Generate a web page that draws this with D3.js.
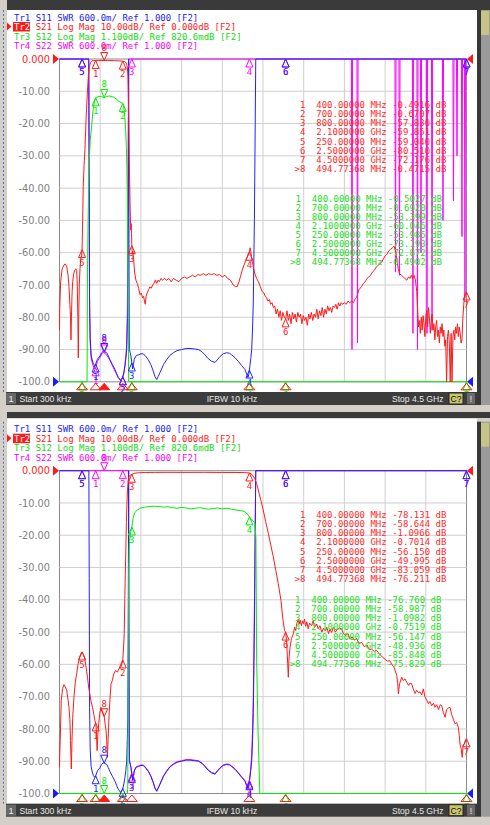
<!DOCTYPE html>
<html><head><meta charset="utf-8">
<script src="https://cdn.jsdelivr.net/npm/d3@7"></script>
<style>body{margin:0;background:#d4d0c8;overflow:hidden}svg{display:block}</style>
</head><body><svg id="c" width="490" height="825"></svg>
<script>
// ---------------- DATA ----------------
const startMHz = 0.3, stopMHz = 4500;
const yTickLabels = ["0.000","-10.00","-20.00","-30.00","-40.00","-50.00","-60.00","-70.00","-80.00","-90.00","-100.0"];
const traceTitles = [
  {tr:"Tr1", rest:" S11 SWR 600.0m/ Ref 1.000 [F2]"},
  {tr:"Tr2", rest:" S21 Log Mag 10.00dB/ Ref 0.000dB [F2]"},
  {tr:"Tr3", rest:" S12 Log Mag 1.100dB/ Ref 820.6mdB [F2]"},
  {tr:"Tr4", rest:" S22 SWR 600.0m/ Ref 1.000 [F2]"}
];
const markerFreqs = [400, 700, 800, 2100, 250, 2500, 4500, 494.77368];
const markerFreqText = ["400.00000 MHz","700.00000 MHz","800.00000 MHz","2.1000000 GHz","250.00000 MHz","2.5000000 GHz","4.5000000 GHz","494.77368 MHz"];
const s21MarkA = [-0.4916,-0.6707,-57.830,-59.851,-59.040,-80.510,-72.176,-0.4715];
const s12MarkA = [-0.5027,-0.6920,-53.399,-60.046,-53.985,-73.193,-72.872,-0.4902];
const s21MarkB = [-78.131,-58.644,-1.0966,-0.7014,-56.150,-49.995,-83.059,-76.211];
const s12MarkB = [-76.760,-58.987,-1.0982,-0.7519,-56.147,-48.936,-85.848,-75.829];
const statusTexts = ["Start 300 kHz","IFBW 10 kHz","Stop 4.5 GHz"];

// S21 (dB) upper screen: 400-700 MHz band-pass
const s21A = [[0.3,-83.9],[3,-77],[13,-69],[30,-65],[50,-63.8],[65,-63.5],[80,-64.3],[95,-67],[105,-70.5],[115,-76],[122,-80],[127,-87],[133,-79],[140,-72],[146,-69],[158,-66.5],[171,-65.3],[182,-65],[190,-65.6],[197,-70],[203,-80],[208,-92.6],[213,-80],[219,-70],[227,-65],[235,-62],[245,-61],[250,-59.04],[256,-50],[263,-39.5],[272,-33],[282,-28],[295,-18],[308,-10.6],[320,-5],[330,-2.4],[345,-1],[360,-0.55],[380,-0.5],[400,-0.4916],[430,-0.48],[460,-0.47],[494.77,-0.4715],[530,-0.47],[570,-0.49],[610,-0.52],[650,-0.56],[680,-0.62],[700,-0.6707],[720,-0.8],[740,-1.2],[750,-2.5],[756,-5],[761,-10.5],[765,-17],[768,-23],[772,-31],[777,-40],[783,-48],[788,-53],[792,-51],[796,-54],[800,-57.83],[806,-60.5],[812,-59.5],[820,-62],[830,-66],[845,-68.5],[860,-69.5],[875,-71],[890,-73],[905,-72.5],[918,-74],[930,-73.5],[940,-75],[948,-76],[958,-73.5],[970,-72.5],[985,-71.5],[1000,-70.6],[1015,-71],[1030,-70],[1045,-69.5],[1060,-68.5],[1075,-69.5],[1090,-68.5],[1105,-69],[1120,-68],[1140,-68.5],[1160,-68],[1185,-68.5],[1210,-68],[1235,-69],[1260,-68],[1290,-68.5],[1320,-69],[1350,-68],[1380,-67.5],[1410,-68],[1440,-67.5],[1470,-67],[1500,-67.5],[1530,-66.8],[1560,-67],[1590,-66.5],[1620,-67],[1650,-66.5],[1680,-66.8],[1710,-66.5],[1740,-67],[1770,-66.8],[1800,-67.5],[1830,-67],[1860,-68],[1890,-68.5],[1920,-70],[1945,-70.5],[1965,-70.5],[1985,-69],[2005,-67],[2025,-65],[2045,-63.5],[2065,-62],[2080,-61],[2090,-60],[2100,-59.851],[2108,-58.5],[2115,-59.5],[2125,-62],[2140,-64],[2160,-66.5],[2180,-68],[2200,-69],[2220,-70.5],[2240,-72],[2260,-72.5],[2275,-73.5],[2290,-74],[2305,-75],[2320,-74.5],[2335,-76],[2350,-75.5],[2365,-77],[2380,-76.5],[2395,-79],[2410,-77.5],[2425,-80],[2440,-78],[2455,-81],[2470,-78.5],[2485,-80],[2500,-80.51],[2515,-78],[2530,-81],[2545,-79],[2560,-82],[2575,-78.5],[2590,-80.5],[2605,-79],[2620,-81.5],[2635,-78.5],[2650,-80],[2665,-79],[2680,-82],[2695,-79.5],[2710,-81],[2725,-80],[2740,-82.5],[2755,-79],[2770,-80.5],[2785,-78.5],[2800,-81],[2815,-79],[2830,-80],[2845,-77.5],[2860,-80.5],[2875,-78],[2890,-79.5],[2905,-77],[2920,-80],[2935,-77.5],[2950,-79],[2965,-76.5],[2980,-78],[2995,-77],[3010,-78.5],[3025,-76.5],[3040,-77],[3055,-76],[3070,-77.5],[3085,-75.5],[3100,-76.5],[3115,-75.5],[3130,-76],[3150,-75.5],[3170,-76],[3190,-75],[3210,-75.5],[3230,-75],[3250,-75.5],[3265,-74.5],[3280,-74],[3295,-73],[3310,-71.5],[3325,-71],[3340,-70.5],[3360,-69.5],[3380,-69],[3400,-68],[3420,-67.5],[3440,-67],[3460,-66],[3480,-65.5],[3500,-64.5],[3520,-64],[3540,-63.5],[3560,-63],[3580,-62],[3600,-61],[3620,-60.5],[3640,-59.5],[3660,-59],[3680,-58.5],[3700,-58],[3715,-59.5],[3730,-62],[3745,-65],[3760,-66.5],[3780,-67],[3800,-67.5],[3820,-68],[3840,-68.5],[3860,-67.5],[3875,-68],[3890,-67],[3905,-68],[3920,-67],[3935,-68.5],[3950,-72],[3960,-78],[3970,-83],[3980,-81],[3990,-85],[4000,-80],[4010,-84],[4020,-79.5],[4030,-82],[4040,-86],[4050,-80],[4060,-78],[4070,-83],[4080,-77],[4090,-80],[4100,-85],[4110,-81],[4120,-79],[4130,-84],[4140,-82],[4150,-87],[4160,-83],[4170,-81],[4180,-86],[4190,-84],[4200,-88],[4210,-83],[4220,-85],[4230,-82],[4240,-86],[4250,-84],[4260,-89],[4270,-87],[4280,-100],[4290,-86],[4300,-84],[4310,-88],[4320,-100],[4330,-85],[4340,-100],[4350,-86],[4360,-84],[4370,-87],[4380,-83],[4390,-85],[4400,-82],[4410,-86],[4420,-83],[4430,-85],[4440,-88],[4450,-87],[4460,-80],[4470,-76],[4480,-73],[4490,-72.5],[4500,-72.176]];

// S12 (dB, own scale) upper screen
const s12A = [[0.3,-75],[60,-72],[150,-66],[250,-53.985],[290,-25],[305,-12],[310,-6.5],[315,-5.0],[322,-3.6],[330,-2.6],[340,-1.95],[355,-1.5],[370,-0.95],[385,-0.65],[400,-0.5027],[420,-0.47],[450,-0.455],[470,-0.47],[494.77,-0.4902],[520,-0.46],[545,-0.44],[570,-0.45],[600,-0.48],[630,-0.55],[660,-0.63],[680,-0.66],[700,-0.692],[712,-0.85],[722,-1.15],[732,-1.6],[740,-2.2],[746,-3.0],[752,-4.3],[758,-7],[765,-12],[780,-30],[800,-53.399],[900,-72],[1200,-68],[1600,-66],[2100,-60.046],[2500,-73.193],[3000,-78],[3700,-60],[4000,-82],[4500,-72.872]];

// S11 SWR (both screens)
const s11SWR = [[0.3,20],[325,20],[329,5],[333,2.6],[340,1.8],[350,1.5],[360,1.42],[375,1.33],[392,1.3],[400,1.33],[420,1.42],[448,1.48],[466,1.54],[484,1.57],[500,1.56],[522,1.54],[540,1.48],[558,1.41],[585,1.32],[614,1.23],[632,1.15],[650,1.08],[676,1.02],[698,1.08],[712,1.18],[724,1.3],[735,1.45],[743,1.6],[750,2.0],[755,2.4],[760,4],[765,20],[768,4],[772,1.6],[781,1.55],[790,1.48],[800,1.35],[809,1.24],[818,1.32],[827,1.42],[850,1.49],[871,1.5],[900,1.52],[927,1.52],[955,1.47],[982,1.41],[1010,1.32],[1037,1.2],[1055,1.1],[1075,1.04],[1092,1.1],[1111,1.17],[1150,1.32],[1185,1.41],[1220,1.49],[1259,1.54],[1300,1.58],[1351,1.6],[1400,1.62],[1443,1.62],[1490,1.61],[1535,1.6],[1575,1.56],[1609,1.5],[1645,1.43],[1683,1.38],[1720,1.36],[1750,1.42],[1775,1.47],[1810,1.52],[1849,1.54],[1880,1.53],[1904,1.5],[1940,1.45],[1977,1.38],[2015,1.3],[2051,1.23],[2070,1.14],[2084,1.08],[2095,1.15],[2106,1.3],[2116,1.45],[2125,1.6],[2135,2.0],[2143,2.5],[2155,4],[2170,20],[4500,20]];

// S22 SWR upper screen
const s22A = [[0.3,20],[322,20],[328,4],[333,2.2],[340,1.7],[350,1.45],[365,1.33],[380,1.27],[392,1.24],[400,1.26],[420,1.38],[448,1.46],[470,1.52],[484,1.55],[500,1.53],[522,1.5],[540,1.45],[558,1.4],[585,1.3],[614,1.2],[650,1.08],[676,1.03],[698,1.08],[712,1.15],[724,1.3],[735,1.5],[743,1.7],[750,2.3],[757,4],[763,20],[3228,20],[3234,1.6],[3240,20],[3289,20],[3295,1.72],[3301,20],[3709,20],[3715,3.04],[3721,20],[3753,20],[3759,2.98],[3765,20],[3902,20],[3908,1.9],[3914,20],[3952,20],[3958,1.6],[3964,20],[3991,20],[3997,3.4],[4003,20],[4057,20],[4063,1.9],[4069,20],[4113,20],[4119,1.96],[4125,20],[4234,20],[4240,4.0],[4246,20],[4350,20],[4356,4.36],[4362,20],[4389,20],[4395,5.2],[4401,20],[4444,20],[4450,3.7],[4456,20],[4477,20],[4483,2.56],[4489,20],[4500,20]];

// S21 (dB) lower screen: 800-2100 MHz band-pass
const s21B = [[0.3,-91.9],[3,-88],[8,-83.6],[20,-71],[35,-67.5],[50,-66.3],[65,-67],[80,-68],[95,-71],[105,-73.3],[115,-77],[122,-83.6],[131,-92.4],[138,-84],[146,-76.7],[160,-70.2],[175,-65.5],[190,-62.9],[205,-60],[220,-58],[235,-56.8],[250,-56.15],[265,-57],[280,-58.3],[295,-61],[310,-64],[322,-67],[335,-69.1],[350,-71.5],[365,-73.3],[380,-75.5],[392,-77.5],[400,-78.131],[408,-80.5],[416,-86.7],[425,-81.5],[435,-78],[445,-75.3],[458,-73.3],[475,-74.5],[494.77,-76.211],[505,-78.5],[515,-80.5],[522,-83.6],[530,-88.8],[538,-83],[548,-76],[558,-71],[570,-66],[585,-65],[600,-63],[620,-61.9],[640,-62.4],[660,-61.2],[680,-60.8],[700,-58.644],[710,-54],[716,-50.4],[722,-40],[728,-32],[734,-24],[740,-16],[746,-10],[752,-6],[760,-3],[770,-1.8],[785,-1.3],[800,-1.0966],[830,-0.8],[870,-0.65],[950,-0.55],[1050,-0.52],[1200,-0.5],[1400,-0.52],[1600,-0.5],[1800,-0.54],[1950,-0.55],[2050,-0.6],[2100,-0.7014],[2130,-1.2],[2160,-2.5],[2180,-4],[2198,-6],[2225,-9],[2253,-12.2],[2280,-15.8],[2309,-19.4],[2336,-23],[2364,-26.7],[2392,-31],[2419,-35],[2449,-40.2],[2470,-46],[2488,-49.5],[2500,-49.995],[2512,-53],[2523,-59.8],[2530,-64],[2538,-58],[2549,-54.7],[2565,-52],[2586,-50.5],[2600,-48.5],[2612,-49.5],[2623,-47.4],[2640,-46],[2650,-47.5],[2660,-46.3],[2675,-48],[2685,-46.5],[2697,-47.4],[2710,-46],[2722,-48.2],[2734,-46.8],[2750,-49],[2765,-47.2],[2789,-48],[2805,-46.5],[2820,-48.5],[2845,-47.5],[2860,-49],[2880,-48],[2900,-50],[2920,-48.8],[2937,-49.6],[2955,-48.5],[2975,-50.5],[2990,-49],[3008,-50.1],[3030,-48.5],[3050,-50],[3070,-49.2],[3095,-48.8],[3119,-49],[3140,-50.5],[3165,-51],[3190,-50.5],[3212,-52.2],[3235,-51.5],[3260,-52.5],[3285,-52],[3310,-53.5],[3341,-53.2],[3370,-54.5],[3400,-54],[3425,-55.5],[3452,-55.3],[3480,-56],[3500,-55.5],[3525,-56.3],[3550,-57.2],[3575,-57.8],[3599,-58.4],[3625,-59],[3650,-58.8],[3673,-59.9],[3700,-61],[3729,-63.4],[3740,-66],[3747,-69.1],[3760,-66],[3784,-64],[3800,-65],[3820,-64.5],[3839,-65.5],[3860,-66.5],[3875,-65.8],[3894,-66],[3910,-67.5],[3931,-69],[3950,-68],[3970,-68.8],[3986,-68.5],[4005,-69.5],[4023,-67.6],[4040,-70],[4060,-71],[4078,-72.2],[4095,-71.5],[4115,-72.8],[4135,-72],[4152,-73.3],[4170,-72.5],[4190,-74],[4210,-72.5],[4226,-72.8],[4245,-75],[4263,-76.4],[4280,-74],[4300,-73.5],[4318,-73.3],[4335,-75.5],[4355,-77],[4374,-78.4],[4390,-78],[4410,-79.5],[4420,-82],[4429,-84.7],[4440,-86],[4453,-88.8],[4462,-85],[4475,-84.7],[4488,-83.5],[4500,-83.059]];

// S12 (dB, own scale) lower screen
const s12B = [[0.3,-90],[100,-75],[250,-56.147],[400,-76.76],[494.77,-75.829],[600,-70],[700,-58.987],[740,-30],[750,-12],[755,-10],[758,-8],[761,-5],[765,-2.6],[772,-1.7],[785,-1.3],[800,-1.0982],[812,-0.82],[830,-0.62],[860,-0.52],[900,-0.45],[950,-0.42],[1000,-0.40],[1050,-0.39],[1100,-0.40],[1150,-0.42],[1200,-0.41],[1250,-0.44],[1300,-0.46],[1350,-0.43],[1400,-0.45],[1450,-0.48],[1500,-0.46],[1550,-0.44],[1600,-0.47],[1650,-0.49],[1700,-0.47],[1750,-0.45],[1800,-0.48],[1850,-0.46],[1900,-0.49],[1950,-0.52],[2000,-0.54],[2040,-0.56],[2070,-0.63],[2100,-0.7519],[2130,-0.86],[2160,-0.97],[2172,-1.5],[2180,-5.6],[2195,-8],[2215,-10.5],[2300,-30],[2500,-48.936],[3000,-55],[4500,-85.848]];

// S22 SWR lower screen
const s22B = [[0.3,20],[762,20],[767,4],[771,2.0],[775,1.62],[781,1.57],[790,1.5],[800,1.38],[809,1.26],[818,1.33],[827,1.43],[850,1.5],[871,1.51],[900,1.53],[927,1.53],[955,1.48],[982,1.42],[1010,1.33],[1037,1.21],[1055,1.11],[1075,1.05],[1092,1.11],[1111,1.18],[1150,1.33],[1185,1.42],[1220,1.5],[1259,1.55],[1300,1.59],[1351,1.61],[1400,1.63],[1443,1.63],[1490,1.62],[1535,1.61],[1575,1.57],[1609,1.51],[1645,1.44],[1683,1.39],[1720,1.37],[1750,1.43],[1775,1.48],[1810,1.53],[1849,1.55],[1880,1.54],[1904,1.51],[1940,1.46],[1977,1.39],[2015,1.31],[2051,1.24],[2070,1.15],[2084,1.1],[2095,1.18],[2106,1.33],[2116,1.5],[2125,1.7],[2135,2.2],[2143,2.8],[2155,4.5],[2170,20],[4500,20]];

// ---------------- LAYOUT ----------------
const C = {red:"#ff1a1a", green:"#00ee00", blue:"#2222ff", mag:"#ff00ff", txtGreen:"#22dd22"};
const MONO = "'DejaVu Sans Mono', monospace";
const SANS = "'DejaVu Sans', sans-serif";
const svg = d3.select("#c");
const X0 = 59.5, X1 = 466.5;
const x = d3.scaleLinear().domain([startMHz, stopMHz]).range([X0, X1]);

function interp(data, f){
  for(let i=1;i<data.length;i++){
    if(data[i][0]>=f){const a=data[i-1],b=data[i];return a[1]+(b[1]-a[1])*(f-a[0])/(b[0]-a[0]);}
  }
  return data[data.length-1][1];
}
function fmt(v){return Math.abs(v)<10 ? v.toFixed(4) : v.toFixed(3);}

function panel(dy, P){
  const g = svg.append("g");
  const top = 59 + dy, bot = 381.8 + dy;
  // frame areas
  g.append("rect").attr("x",7).attr("y",(dy?412:0)).attr("width",483).attr("height",dy?6:10).attr("fill","#3a3a3a");
  g.append("rect").attr("x",7).attr("y",10+dy-(dy?3:0)).attr("width",470).attr("height",382+(dy?3:0)).attr("fill","#fff");
  g.append("rect").attr("x",477).attr("y",10+dy).attr("width",4).attr("height",395).attr("fill","#383838");
  g.append("rect").attr("x",481).attr("y",10+dy).attr("width",9).attr("height",395).attr("fill","#9a9a9a");
  g.append("rect").attr("x",481).attr("y",11+dy).attr("width",8).attr("height",24).attr("fill","#c8c488");
  g.append("line").attr("x1",3.5).attr("x2",3.5).attr("y1",10+dy).attr("y2",392+dy).attr("stroke","#4a78c0").attr("stroke-dasharray","2,2");

  const yDB = d3.scaleLinear().domain([-100,0]).range([bot,top]).clamp(true);
  const yS12 = d3.scaleLinear().domain([0.8206-11,0.8206]).range([bot,top]).clamp(true);
  const ySWR = d3.scaleLinear().domain([1,7]).range([bot,top]).clamp(true);

  // grid
  const gr = g.append("g");
  d3.range(11).forEach(i=>{
    const xv = X0 + (X1-X0)*i/10;
    gr.append("line").attr("x1",xv).attr("x2",xv).attr("y1",top).attr("y2",bot).attr("stroke", (i==0||i==10)?"#8a8a8a":"#cfcfcf");
  });
  yTickLabels.forEach((t,i)=>{
    const yv = yDB(-10*i);
    gr.append("line").attr("x1",X0).attr("x2",X1).attr("y1",yv).attr("y2",yv).attr("stroke",(i==0||i==10)?"#8a8a8a":"#cfcfcf");
    g.append("text").attr("x",50).attr("y",yv+3.6).attr("text-anchor","end").attr("font-family",SANS).attr("font-size",9.8)
      .attr("fill", i==0?C.red:"#808080").text(t);
  });
  // ref arrows
  g.append("path").attr("d",`M53,${top-5}L59,${top}L53,${top+5}Z`).attr("fill",C.red);
  g.append("path").attr("d",`M53,${bot-5}L59,${bot}L53,${bot+5}Z`).attr("fill","#1a1aff");
  g.append("path").attr("d",`M473,${top-5}L467,${top}L473,${top+5}Z`).attr("fill",C.red);
  g.append("path").attr("d",`M473,${bot-5}L467,${bot}L473,${bot+5}Z`).attr("fill","#1a1aff");

  // titles
  const cols=[C.blue,C.red,"#11dd11",C.mag];
  traceTitles.forEach((t,i)=>{
    const by = 20.5 + dy + i*9.5;
    if(i==1){
      g.append("rect").attr("x",13).attr("y",by-8).attr("width",17).attr("height",9.5).attr("fill",C.red);
      g.append("path").attr("d",`M7,${by-7.5}L11.5,${by-3.5}L7,${by+0.5}Z`).attr("fill",C.red);
    }
    const tx = g.append("text").attr("x",14).attr("y",by).attr("font-family",MONO).attr("font-size",9).style("white-space","pre");
    tx.append("tspan").attr("fill", i==1?"#fff":cols[i]).text(t.tr);
    tx.append("tspan").attr("fill", cols[i]).text(t.rest);
  });

  // traces
  const clipId = "clip"+(dy?1:0);
  g.append("clipPath").attr("id",clipId).append("rect").attr("x",X0-1).attr("y",top-1).attr("width",X1-X0+2).attr("height",bot-top+2);
  const tg = g.append("g").attr("clip-path",`url(#${clipId})`);
  const traces = [
    {d:P.s22, y:ySWR, c:C.mag, mk:null},
    {d:P.s11, y:ySWR, c:C.blue, mk:null},
    {d:P.s12, y:yS12, c:C.green, mk:P.m12},
    {d:P.s21, y:yDB, c:C.red, mk:P.m21}
  ];
  traces.forEach(T=>{
    const line = d3.line().x(d=>x(d[0])).y(d=>T.y(d[1]));
    tg.append("path").attr("d",line(T.d)).attr("fill","none").attr("stroke",T.c).attr("stroke-width",1);
  });
  // trace markers
  const mg = g.append("g");
  traces.forEach(T=>{
    markerFreqs.forEach((f,i)=>{
      const v = T.mk ? T.mk[i] : interp(T.d,f);
      const xm = x(f), ym = T.y(v);
      const lab = String(i+1);
      if(i==7){
        mg.append("path").attr("d",`M${xm},${ym}L${xm-3.5},${ym-8}L${xm+3.5},${ym-8}Z`).attr("fill","#fff").attr("fill-opacity",0).attr("stroke",T.c);
        mg.append("text").attr("x",xm).attr("y",ym-10).attr("text-anchor","middle").attr("font-family",MONO).attr("font-size",9).attr("fill",T.c).text(lab);
      } else {
        mg.append("path").attr("d",`M${xm},${ym}L${xm-3.5},${ym+8}L${xm+3.5},${ym+8}Z`).attr("fill","none").attr("stroke",T.c);
        mg.append("text").attr("x",xm).attr("y",ym+16).attr("text-anchor","middle").attr("font-family",MONO).attr("font-size",9).attr("fill",T.c).text(lab);
      }
    });
  });
  // stimulus markers below axis
  markerFreqs.forEach((f,i)=>{
    const xm = x(f);
    g.append("path").attr("d",`M${xm},${bot+1.5}L${xm-5.5},${bot+8}L${xm+5.5},${bot+8}Z`)
      .attr("fill", i==7?C.red:"none").attr("stroke",C.red);
  });

  // marker tables
  function table(vals, x0, y0, col){
    vals.forEach((v,i)=>{
      const s = (i==7?">":" ") + String(i+1) + "  " + markerFreqText[i] + " " + fmt(v) + " dB";
      g.append("text").attr("x",x0).attr("y",y0+i*9.05).attr("font-family",MONO).attr("font-size",9)
        .attr("fill",col).style("white-space","pre").text(s);
    });
  }
  table(P.m21, 294.6, P.t21y, "#ff2a2a");
  table(P.m12, P.t12x, P.t12y, C.txtGreen);

  // status bar
  const sy = 392 + dy;
  g.append("rect").attr("x",6).attr("y",sy).attr("width",471).attr("height",13).attr("fill","#3c3c3c");
  g.append("rect").attr("x",6).attr("y",sy+1).attr("width",10).attr("height",11).attr("fill","#686868");
  g.append("text").attr("x",11).attr("y",sy+10).attr("text-anchor","middle").attr("font-family","'Liberation Sans',sans-serif").attr("font-size",9).attr("fill","#eee").text("1");
  g.append("text").attr("x",19.5).attr("y",sy+10).attr("font-family","'Liberation Sans',sans-serif").attr("font-size",8.6).attr("fill","#e6e6e6").text(statusTexts[0]);
  g.append("text").attr("x",232).attr("y",sy+10).attr("text-anchor","middle").attr("font-family","'Liberation Sans',sans-serif").attr("font-size",8.6).attr("fill","#e6e6e6").text(statusTexts[1]);
  g.append("text").attr("x",443.5).attr("y",sy+10).attr("text-anchor","end").attr("font-family","'Liberation Sans',sans-serif").attr("font-size",8.6).attr("fill","#e6e6e6").text(statusTexts[2]);
  g.append("rect").attr("x",449).attr("y",sy+1).attr("width",14).attr("height",11).attr("fill","#c8c46c").attr("stroke","#222");
  g.append("text").attr("x",456).attr("y",sy+10).attr("text-anchor","middle").attr("font-family","'Liberation Sans',sans-serif").attr("font-size",8.6).attr("fill","#111").text("C?");
  g.append("rect").attr("x",467).attr("y",sy+1).attr("width",8).attr("height",11).attr("fill","#6a6a6a");
  g.append("text").attr("x",471).attr("y",sy+10).attr("text-anchor","middle").attr("font-family","'Liberation Sans',sans-serif").attr("font-size",8.6).attr("fill","#eee").text("!");
}

panel(0, {s21:s21A, s12:s12A, s11:s11SWR, s22:s22A, m21:s21MarkA, m12:s12MarkA, t21y:108.3, t12y:201.6, t12x:290.2});
panel(411.7, {s21:s21B, s12:s12B, s11:s11SWR, s22:s22B, m21:s21MarkB, m12:s12MarkB, t21y:518.3, t12y:603.3, t12x:289.6});
</script></body></html>
